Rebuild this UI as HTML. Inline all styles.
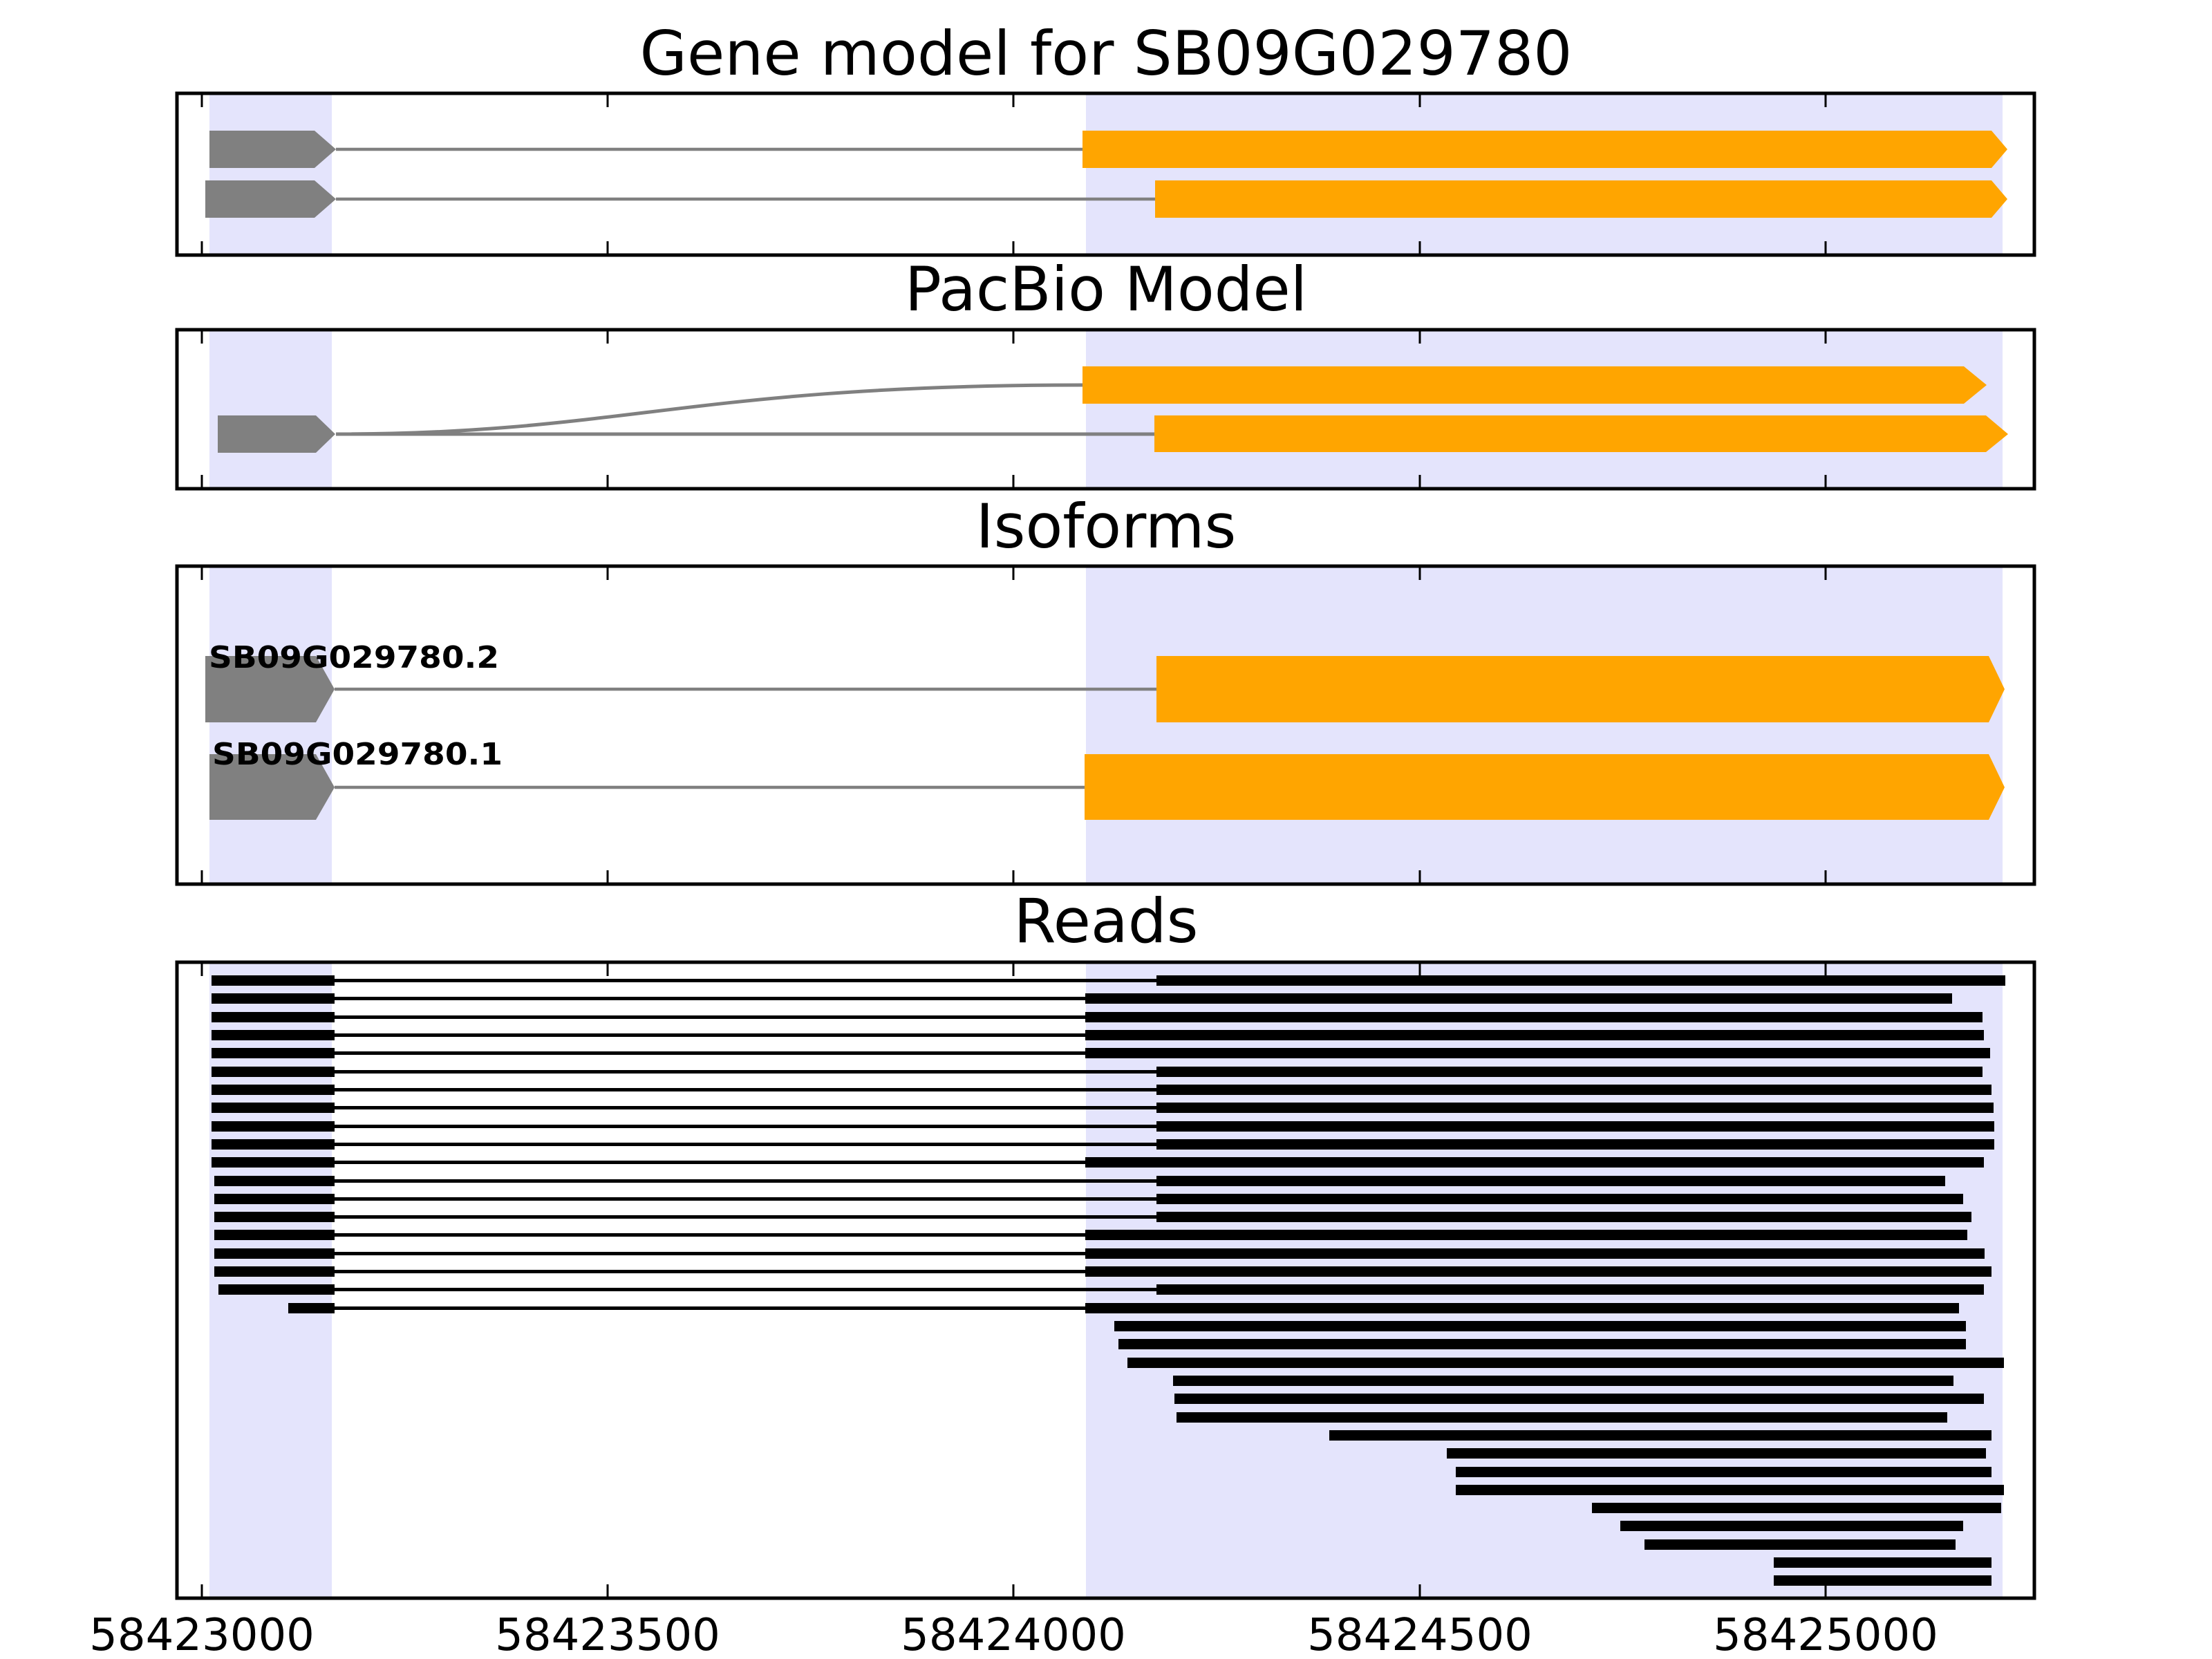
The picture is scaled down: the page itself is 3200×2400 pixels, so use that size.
<!DOCTYPE html>
<html><head><meta charset="utf-8"><style>html,body{margin:0;padding:0;background:#fff}svg{display:block}</style></head>
<body>
<svg width="3200" height="2400" viewBox="0 0 3200 2400" xmlns="http://www.w3.org/2000/svg" font-family="DejaVu Sans, Liberation Sans, sans-serif">
<!-- Titles -->
<text x="1600" y="108" font-size="88" text-anchor="middle" textLength="1349" lengthAdjust="spacingAndGlyphs">Gene model for SB09G029780</text>
<text x="1600" y="449" font-size="88" text-anchor="middle">PacBio Model</text>
<text x="1600" y="792" font-size="88" text-anchor="middle">Isoforms</text>
<text x="1600" y="1363" font-size="88" text-anchor="middle">Reads</text>

<!-- Panel 1 -->
<rect x="303" y="135" width="177" height="234" fill="#e4e4fc"/>
<rect x="1571" y="135" width="1326" height="234" fill="#e4e4fc"/>
<line x1="486" y1="216" x2="1566" y2="216" stroke="#808080" stroke-width="4.5"/>
<line x1="486" y1="288" x2="1671" y2="288" stroke="#808080" stroke-width="4.5"/>
<polygon points="303,189 455,189 486,216 455,243 303,243" fill="#808080"/>
<polygon points="297,261 455,261 486,288 455,315 297,315" fill="#808080"/>
<polygon points="1566,189 2881,189 2904,216 2881,243 1566,243" fill="#ffa500"/>
<polygon points="1671,261 2881,261 2904,288 2881,315 1671,315" fill="#ffa500"/>

<!-- Panel 2 -->
<rect x="303" y="477" width="177" height="230" fill="#e4e4fc"/>
<rect x="1571" y="477" width="1326" height="230" fill="#e4e4fc"/>
<path d="M486,628 C900,628 1000,557 1566,557" fill="none" stroke="#808080" stroke-width="5"/>
<line x1="486" y1="628" x2="1670" y2="628" stroke="#808080" stroke-width="5"/>
<polygon points="315,601 457,601 485,628 457,655 315,655" fill="#808080"/>
<polygon points="1566,530 2841,530 2874,557 2841,584 1566,584" fill="#ffa500"/>
<polygon points="1670,601 2873,601 2905,628 2873,654 1670,654" fill="#ffa500"/>

<!-- Panel 3 -->
<rect x="303" y="819" width="177" height="460" fill="#e4e4fc"/>
<rect x="1571" y="819" width="1326" height="460" fill="#e4e4fc"/>
<line x1="484" y1="997" x2="1675" y2="997" stroke="#808080" stroke-width="4.5"/>
<line x1="484" y1="1139" x2="1570" y2="1139" stroke="#808080" stroke-width="4.5"/>
<polygon points="297,949 457,949 484,997 457,1045 297,1045" fill="#808080"/>
<polygon points="303,1091 457,1091 484,1139 457,1186 303,1186" fill="#808080"/>
<polygon points="1673,949 2877,949 2900,997 2877,1045 1673,1045" fill="#ffa500"/>
<polygon points="1569,1091 2877,1091 2900,1139 2877,1186 1569,1186" fill="#ffa500"/>
<text x="302" y="966" font-size="44" font-weight="bold" textLength="420" lengthAdjust="spacingAndGlyphs">SB09G029780.2</text>
<text x="307" y="1106" font-size="44" font-weight="bold" textLength="420" lengthAdjust="spacingAndGlyphs">SB09G029780.1</text>

<!-- Panel 4 -->
<rect x="303" y="1392" width="177" height="920" fill="#e4e4fc"/>
<rect x="1571" y="1392" width="1326" height="920" fill="#e4e4fc"/>
<g fill="#000">
<rect x="484" y="1416" width="1190" height="5"/><rect x="306" y="1411" width="178" height="15"/><rect x="1673" y="1411" width="1228" height="15"/>
<rect x="484" y="1442" width="1086" height="5"/><rect x="306" y="1437" width="178" height="15"/><rect x="1570" y="1437" width="1254" height="15"/>
<rect x="484" y="1469" width="1086" height="5"/><rect x="306" y="1464" width="178" height="15"/><rect x="1570" y="1464" width="1298" height="15"/>
<rect x="484" y="1495" width="1086" height="5"/><rect x="306" y="1490" width="178" height="15"/><rect x="1570" y="1490" width="1300" height="15"/>
<rect x="484" y="1521" width="1086" height="5"/><rect x="306" y="1516" width="178" height="15"/><rect x="1570" y="1516" width="1309" height="15"/>
<rect x="484" y="1548" width="1190" height="5"/><rect x="306" y="1543" width="178" height="15"/><rect x="1673" y="1543" width="1195" height="15"/>
<rect x="484" y="1574" width="1190" height="5"/><rect x="306" y="1569" width="178" height="15"/><rect x="1673" y="1569" width="1208" height="15"/>
<rect x="484" y="1600" width="1190" height="5"/><rect x="306" y="1595" width="178" height="15"/><rect x="1673" y="1595" width="1211" height="15"/>
<rect x="484" y="1627" width="1190" height="5"/><rect x="306" y="1622" width="178" height="15"/><rect x="1673" y="1622" width="1212" height="15"/>
<rect x="484" y="1653" width="1190" height="5"/><rect x="306" y="1648" width="178" height="15"/><rect x="1673" y="1648" width="1212" height="15"/>
<rect x="484" y="1679" width="1086" height="5"/><rect x="306" y="1674" width="178" height="15"/><rect x="1570" y="1674" width="1300" height="15"/>
<rect x="484" y="1706" width="1190" height="5"/><rect x="310" y="1701" width="174" height="15"/><rect x="1673" y="1701" width="1141" height="15"/>
<rect x="484" y="1732" width="1190" height="5"/><rect x="310" y="1727" width="174" height="15"/><rect x="1673" y="1727" width="1167" height="15"/>
<rect x="484" y="1758" width="1190" height="5"/><rect x="310" y="1753" width="174" height="15"/><rect x="1673" y="1753" width="1179" height="15"/>
<rect x="484" y="1784" width="1086" height="5"/><rect x="310" y="1779" width="174" height="15"/><rect x="1570" y="1779" width="1276" height="15"/>
<rect x="484" y="1811" width="1086" height="5"/><rect x="310" y="1806" width="174" height="15"/><rect x="1570" y="1806" width="1301" height="15"/>
<rect x="484" y="1837" width="1086" height="5"/><rect x="310" y="1832" width="174" height="15"/><rect x="1570" y="1832" width="1311" height="15"/>
<rect x="484" y="1863" width="1190" height="5"/><rect x="316" y="1858" width="168" height="15"/><rect x="1673" y="1858" width="1197" height="15"/>
<rect x="484" y="1890" width="1086" height="5"/><rect x="417" y="1885" width="67" height="15"/><rect x="1570" y="1885" width="1264" height="15"/>
<rect x="1612" y="1911" width="1232" height="15"/>
<rect x="1618" y="1937" width="1226" height="15"/>
<rect x="1631" y="1964" width="1268" height="15"/>
<rect x="1697" y="1990" width="1129" height="15"/>
<rect x="1699" y="2016" width="1171" height="15"/>
<rect x="1702" y="2043" width="1115" height="15"/>
<rect x="1923" y="2069" width="958" height="15"/>
<rect x="2093" y="2095" width="780" height="15"/>
<rect x="2106" y="2122" width="775" height="15"/>
<rect x="2106" y="2148" width="793" height="15"/>
<rect x="2303" y="2174" width="592" height="15"/>
<rect x="2344" y="2200" width="496" height="15"/>
<rect x="2379" y="2227" width="450" height="15"/>
<rect x="2566" y="2253" width="315" height="15"/>
<rect x="2566" y="2279" width="315" height="15"/>
</g>

<!-- Axes frames and ticks -->
<g fill="none" stroke="#000">
<rect x="256" y="135" width="2687" height="234" stroke-width="5"/>
<rect x="256" y="477" width="2687" height="230" stroke-width="5"/>
<rect x="256" y="819" width="2687" height="460" stroke-width="5"/>
<rect x="256" y="1392" width="2687" height="920" stroke-width="5"/>
</g>
<g stroke="#000" stroke-width="3">
<path d="M292,135v20M879,135v20M1466,135v20M2054,135v20M2641,135v20 M292,369v-20M879,369v-20M1466,369v-20M2054,369v-20M2641,369v-20"/>
<path d="M292,477v20M879,477v20M1466,477v20M2054,477v20M2641,477v20 M292,707v-20M879,707v-20M1466,707v-20M2054,707v-20M2641,707v-20"/>
<path d="M292,819v20M879,819v20M1466,819v20M2054,819v20M2641,819v20 M292,1279v-20M879,1279v-20M1466,1279v-20M2054,1279v-20M2641,1279v-20"/>
<path d="M292,1392v20M879,1392v20M1466,1392v20M2054,1392v20M2641,1392v20 M292,2312v-20M879,2312v-20M1466,2312v-20M2054,2312v-20M2641,2312v-20"/>
</g>
<g font-size="64" text-anchor="middle">
<text x="292" y="2387">58423000</text>
<text x="879" y="2387">58423500</text>
<text x="1466" y="2387">58424000</text>
<text x="2054" y="2387">58424500</text>
<text x="2641" y="2387">58425000</text>
</g>
</svg>
</body></html>
